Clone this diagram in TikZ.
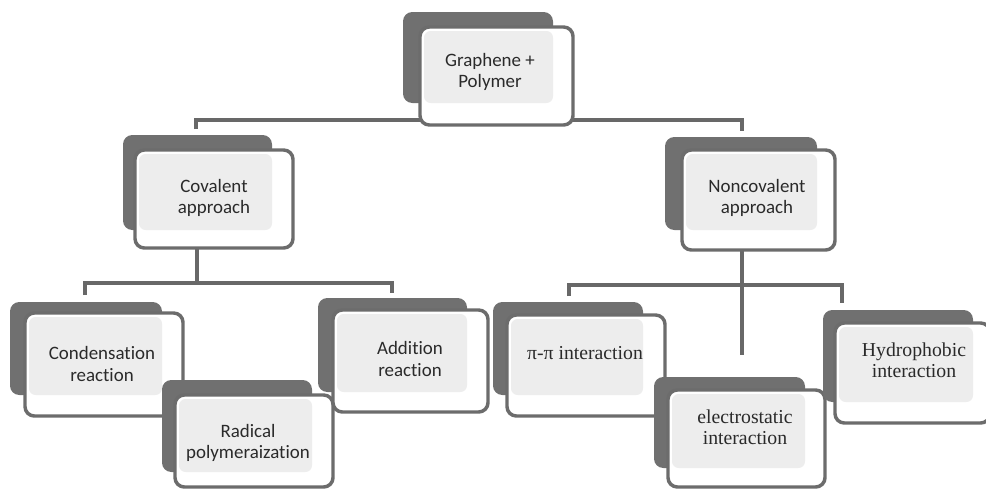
\documentclass[tikz,border=0pt]{standalone}
\usepackage{fontspec}
\setmainfont[Ligatures={NoCommon,NoDiscretionary,NoContextual}]{Carlito}
\newfontfamily\serifb{Liberation Serif}
\definecolor{backgray}{HTML}{707070}
\definecolor{bordergray}{HTML}{6C6C6C}
\definecolor{linegray}{HTML}{686868}
\definecolor{innergray}{HTML}{EDEDED}
\definecolor{textgray}{HTML}{2A2A2A}
\newcommand\gbox[9]{%
  \fill[backbox] (#2,#3) rectangle (#4,#5);
  \draw[frontbox] (#6,#7) coordinate (#1-nw) rectangle (#8,#9) coordinate (#1-se);
  \fill[innerbox] ({#6+4},{#7+4}) rectangle (#4,#5);
}
\begin{document}
\begin{tikzpicture}[x=0.75pt,y=-0.75pt,
  conn/.style={draw=linegray,line width=3pt},
  backbox/.style={fill=backgray,rounded corners=7pt},
  frontbox/.style={fill=white,draw=bordergray,line width=2.6pt,rounded corners=7pt},
  innerbox/.style={fill=innergray,rounded corners=5pt},
  lbl/.style={align=center,text=textgray,inner sep=0pt,font=\fontsize{14.2}{16}\selectfont},
  slbl/.style={align=center,text=textgray,inner sep=0pt,font=\serifb\fontsize{14.8}{15.5}\selectfont}]
\useasboundingbox[fill=white] (0,0) rectangle (986,489);

% junction coordinates
\coordinate (gp-bar) at (470,120);
\coordinate (cov-in) at (196,129);
\coordinate (non-in) at (742,131);
\coordinate (cov-out) at (197,246);
\coordinate (cov-j) at (197,283);
\coordinate (con-in) at (85,295);
\coordinate (add-in) at (392,293);
\coordinate (non-out) at (742,248);
\coordinate (non-j) at (742,285);
\coordinate (non-end) at (742,355);
\coordinate (pi-in) at (569,296);
\coordinate (hyd-in) at (842,303);

% connectors
\draw[conn] (cov-in) |- (gp-bar) -| (non-in);
\draw[conn] (cov-out) -- (cov-j);
\draw[conn] (con-in) |- (cov-j) -| (add-in);
\draw[conn] (non-out) -- (non-end);
\draw[conn] (pi-in) |- (non-j) -| (hyd-in);

% boxes
\gbox{gp}{403}{12}{553}{103}{420}{27}{573}{125}
\gbox{cov}{123}{135}{272}{230}{135}{150}{293}{248}
\gbox{non}{665}{137}{817}{230}{682}{150}{835}{250}
\gbox{con}{10}{302}{162}{395}{25}{313}{183}{416}
\gbox{rad}{162}{380}{312}{472}{175}{395}{333}{487}
\gbox{add}{318}{298}{467}{392}{333}{310}{488}{412}
\gbox{pi}{493}{302}{643}{395}{507}{315}{665}{416}
\gbox{ele}{654}{377}{805}{468}{668}{390}{825}{487}
\gbox{hyd}{823}{310}{973}{402}{835}{323}{990}{423}

% labels
\node[lbl] (gp-t) at (490,72) {Graphene +\\Polymer};
\node[lbl] (cov-t) at (214,198) {Covalent\\approach};
\node[lbl] (non-t) at (757,198) {Noncovalent\\approach};
\node[lbl] (con-t) at (102,364) {Condensation\\reaction};
\node[lbl] (rad-t) at (248,443) {Radical\\polymeraization};
\node[lbl] (add-t) at (410,359) {Addition\\reaction};
\node[slbl] (pi-t) at (585,353) {π-π interaction};
\node[slbl] (ele-t) at (745,427) {electrostatic\\interaction};
\node[slbl] (hyd-t) at (914,360) {Hydrophobic\\interaction};
\end{tikzpicture}
\end{document}
